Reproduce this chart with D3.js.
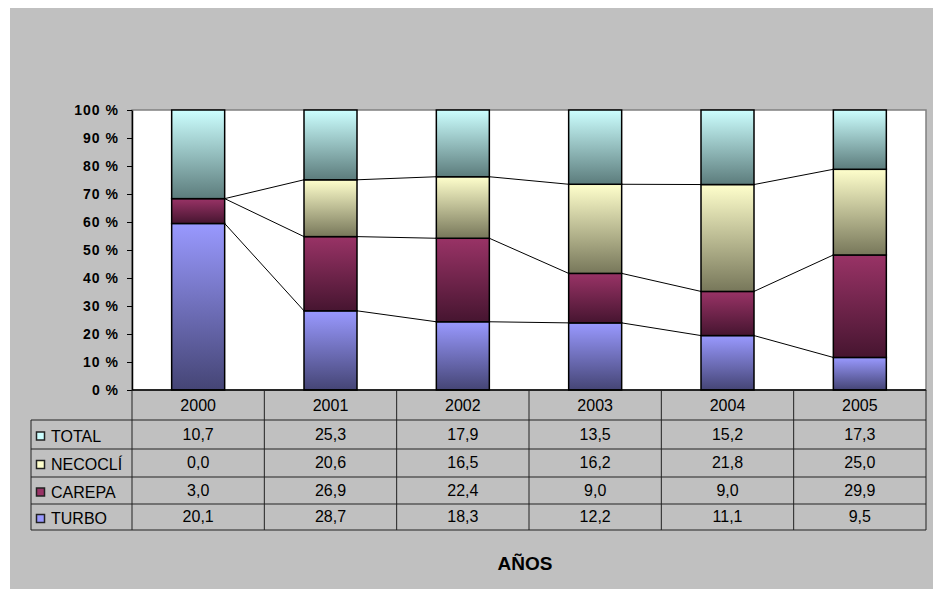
<!DOCTYPE html>
<html>
<head>
<meta charset="utf-8">
<script src="https://cdn.jsdelivr.net/npm/d3@7"></script>
<style>
  body { margin: 0; background: #fff; }
  svg { display: block; font-family: Arial, "Liberation Sans", sans-serif; }
</style>
</head>
<body>
<div id="chart"></div>
<script>
// data
const years = ['2000', '2001', '2002', '2003', '2004', '2005']
const seriesNames = ['TOTAL', 'NECOCLÍ', 'CAREPA', 'TURBO'] // table order
const totalVals = [10.7, 25.3, 17.9, 13.5, 15.2, 17.3]
const necocliVals = [0.0, 20.6, 16.5, 16.2, 21.8, 25.0]
const carepaVals = [3.0, 26.9, 22.4, 9.0, 9.0, 29.9]
const turboVals = [20.1, 28.7, 18.3, 12.2, 11.1, 9.5]
const yTicks = [0, 0.1, 0.2, 0.3, 0.4, 0.5, 0.6, 0.7, 0.8, 0.9, 1]

const colors = {
    'TOTAL': ['#CCFFFF', '#5C7C7C'],
    'NECOCLÍ': ['#FFFFCC', '#77775A'],
    'CAREPA': ['#993366', '#461530'],
    'TURBO': ['#9999FF', '#454575']
}

const valuesBySeries = {
    'TOTAL': totalVals,
    'NECOCLÍ': necocliVals,
    'CAREPA': carepaVals,
    'TURBO': turboVals
}

const width = 933, height = 589
const plot = { left: 132, right: 926, top: 110, bottom: 390 }
const rowH = [390, 420, 449, 477, 504, 530]

const svg = d3.select('#chart').append('svg')
    .attr('width', width)
    .attr('height', height)

// gradients
const defs = svg.append('defs')
seriesNames.forEach((s, i) => {
    const g = defs.append('linearGradient')
        .attr('id', 'grad' + i)
        .attr('x1', 0).attr('y1', 0).attr('x2', 0).attr('y2', 1)
    g.append('stop').attr('offset', '0%').attr('stop-color', colors[s][0])
    g.append('stop').attr('offset', '100%').attr('stop-color', colors[s][1])
})

// background
svg.append('rect')
    .attr('x', 10).attr('y', 8)
    .attr('width', width - 10).attr('height', height - 8)
    .style('fill', '#C0C0C0')

// plot area
svg.append('rect')
    .attr('x', plot.left).attr('y', plot.top)
    .attr('width', plot.right - plot.left).attr('height', plot.bottom - plot.top)
    .style('fill', '#fff')
    .style('stroke', '#808080')
    .style('stroke-width', 1.5)

const x = d3.scaleBand()
    .domain(years)
    .range([plot.left, plot.right])
    .paddingInner(0)
    .paddingOuter(0)

const barW = 53

const y = d3.scaleLinear()
    .domain([0, 1])
    .range([plot.bottom, plot.top])

const rows = years.map((yr, i) => {
    const r = { year: yr }
    seriesNames.forEach(s => { r[s] = valuesBySeries[s][i] })
    return r
})

const stackOrder = ['TURBO', 'CAREPA', 'NECOCLÍ', 'TOTAL']
const stacked = d3.stack()
    .keys(stackOrder)
    .offset(d3.stackOffsetExpand)(rows)

// bars
stacked.forEach(layer => {
    const gi = seriesNames.indexOf(layer.key)
    svg.append('g').selectAll('rect')
        .data(layer.filter(d => d[1] - d[0] > 0))
        .enter()
        .append('rect')
        .attr('x', d => x(d.data.year) + (x.bandwidth() - barW) / 2)
        .attr('y', d => y(d[1]))
        .attr('width', barW)
        .attr('height', d => y(d[0]) - y(d[1]))
        .style('fill', `url(#grad${gi})`)
        .style('stroke', '#000')
        .style('stroke-width', 1.5)
})

// series lines
stacked.slice(0, 3).forEach(layer => {
    for (let i = 0; i < layer.length - 1; i += 1) {
        svg.append('line')
            .attr('x1', x(years[i]) + (x.bandwidth() + barW) / 2)
            .attr('y1', y(layer[i][1]))
            .attr('x2', x(years[i + 1]) + (x.bandwidth() - barW) / 2)
            .attr('y2', y(layer[i + 1][1]))
            .style('stroke', '#000')
            .style('stroke-width', 1)
    }
})

// y axis
const yAxis = svg.append('g')
    .attr('transform', `translate(${plot.left},0)`)
    .call(d3.axisLeft(y)
        .tickValues(yTicks)
        .tickSize(5)
        .tickSizeOuter(0)
        .tickPadding(8)
        .tickFormat(d => Math.round(d * 100) + ' %'))
yAxis.select('.domain').style('stroke', '#000').style('stroke-width', 1.5)
yAxis.selectAll('.tick line').style('stroke', '#000')
yAxis.selectAll('.tick text')
    .style('font-size', '14px')
    .style('font-weight', 'bold')
    .style('letter-spacing', '1px')
    .style('fill', '#000')
    .attr('font-family', 'Arial, "Liberation Sans", sans-serif')

// x axis line
svg.append('line')
    .attr('x1', plot.left).attr('x2', plot.right)
    .attr('y1', plot.bottom).attr('y2', plot.bottom)
    .style('stroke', '#000').style('stroke-width', 1.5)

// data table
const tbl = svg.append('g')
const lineStyle = sel => sel.style('stroke', '#222').style('stroke-width', 1)

// horizontal lines
rowH.slice(1).forEach(h => {
    tbl.append('line')
        .attr('x1', 31).attr('x2', plot.right)
        .attr('y1', h).attr('y2', h)
        .call(lineStyle)
})
// vertical lines
years.forEach(yr => {
    tbl.append('line')
        .attr('x1', x(yr)).attr('x2', x(yr))
        .attr('y1', plot.bottom).attr('y2', rowH[5])
        .call(lineStyle)
})
tbl.append('line')
    .attr('x1', plot.right).attr('x2', plot.right)
    .attr('y1', plot.bottom).attr('y2', rowH[5])
    .call(lineStyle)
tbl.append('line')
    .attr('x1', 31).attr('x2', 31)
    .attr('y1', rowH[1]).attr('y2', rowH[5])
    .call(lineStyle)

// year header
tbl.selectAll('.yr')
    .data(years)
    .enter()
    .append('text')
    .attr('x', d => x(d) + x.bandwidth() / 2)
    .attr('y', (rowH[0] + rowH[1]) / 2 + 6)
    .attr('text-anchor', 'middle')
    .style('font-size', '16px')
    .text(d => d)

const fmt = v => d3.format('.1f')(v).replace('.', ',')

seriesNames.forEach((s, r) => {
    const cy = (rowH[r + 1] + rowH[r + 2]) / 2
    tbl.append('rect')
        .attr('x', 36.5).attr('y', cy - 2.5)
        .attr('width', 8).attr('height', 8)
        .style('fill', colors[s][0])
        .style('stroke', '#222')
        .style('stroke-width', 1.5)
    tbl.append('text')
        .attr('x', 51)
        .attr('y', cy + 7)
        .style('font-size', '16px')
        .text(s)
    tbl.selectAll('.v' + r)
        .data(valuesBySeries[s])
        .enter()
        .append('text')
        .attr('x', (d, i) => x(years[i]) + x.bandwidth() / 2)
        .attr('y', cy + 5)
        .attr('text-anchor', 'middle')
        .style('font-size', '16px')
        .text(d => fmt(d))
})

// axis title
svg.append('text')
    .attr('x', 525)
    .attr('y', 570)
    .attr('text-anchor', 'middle')
    .style('font-size', '19px')
    .style('font-weight', 'bold')
    .text('AÑOS')
</script>
</body>
</html>
